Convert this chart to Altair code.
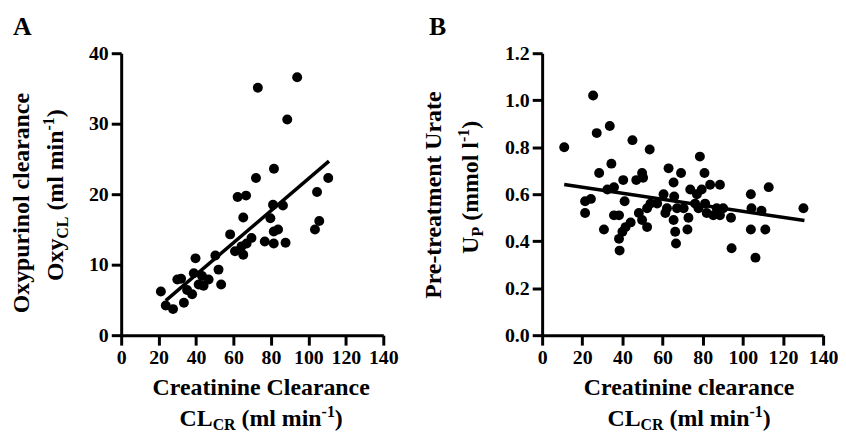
import altair as alt
import pandas as pd

# ---------------- data ----------------
# Panel A: oxypurinol clearance vs creatinine clearance
a_crcl = [73, 94, 88.7, 81.6, 72, 110.6, 104.6, 62.2, 66.7, 81.1, 86.4, 65.2, 79.7,
          105.8, 103.5, 83.8, 81.5, 58.2, 69.6, 76.7, 81.5, 87.8, 64.3, 60.8, 65.2,
          50.3, 39.7, 52, 38.8, 43.2, 46.7, 41.4, 30, 53.4, 35.2, 37.9, 21.2, 33.5,
          23.8, 27.7, 67, 44, 32]
a_oxycl = [35.1, 36.6, 30.6, 23.6, 22.3, 22.3, 20.3, 19.6, 19.8, 18.5, 18.4, 16.7, 16.6,
           16.2, 15.0, 15.0, 14.7, 14.3, 13.8, 13.3, 13.0, 13.1, 12.6, 11.9, 11.4,
           11.3, 10.9, 9.3, 8.8, 8.4, 7.9, 7.2, 7.9, 7.2, 6.4, 5.8, 6.2, 4.6,
           4.2, 3.7, 13.0, 7.0, 8.0]
a_fit_x = [23.8, 111.0]
a_fit_y = [4.9, 24.7]

# Panel B: pre-treatment urate vs creatinine clearance
b_crcl = [25.4, 11, 33.7, 27.2, 45, 53.6, 78.6, 34.5, 28.4, 63, 69.2, 80.9, 49.8, 46.9,
          50.3, 40.4, 65.5, 88.6, 83.7, 112.9, 104, 32.5, 35.8, 73.8, 79.5, 77.1, 60.5,
          65.8, 21.4, 24.3, 41.1, 54, 52.3, 57.3, 62.2, 67.2, 70.5, 76.2, 81.2, 77.9,
          82, 87, 90.2, 88.6, 104.3, 109.3, 130.2, 21.4, 35.8, 38.3, 48.2, 49.8, 52.3,
          44.1, 41.6, 40, 30.8, 38.3, 38.6, 65.5, 66.3, 66.7, 72.4, 61.4, 72.9, 94.1,
          104, 111.2, 94.4, 106.3, 85.3]
b_urate = [1.02, 0.80, 0.89, 0.86, 0.83, 0.79, 0.76, 0.73, 0.69, 0.71, 0.69, 0.69, 0.69,
           0.66, 0.67, 0.66, 0.65, 0.64, 0.64, 0.63, 0.60, 0.62, 0.63, 0.62, 0.62, 0.60,
           0.60, 0.59, 0.57, 0.58, 0.57, 0.56, 0.54, 0.56, 0.54, 0.54, 0.54, 0.56, 0.56,
           0.54, 0.52, 0.54, 0.54, 0.51, 0.54, 0.53, 0.54, 0.52, 0.51, 0.51, 0.52, 0.49,
           0.46, 0.48, 0.46, 0.44, 0.45, 0.41, 0.36, 0.49, 0.44, 0.39, 0.45, 0.52, 0.50,
           0.50, 0.45, 0.45, 0.37, 0.33, 0.51]
b_fit_x = [11.0, 130.7]
b_fit_y = [0.641, 0.488]

x_ticks = [0, 20, 40, 60, 80, 100, 120, 140]
ya_ticks = [0, 10, 20, 30, 40]
yb_ticks = [0.0, 0.2, 0.4, 0.6, 0.8, 1.0, 1.2]

# ---------------- styling ----------------
FONT = "Liberation Serif"
MAIN = 24
SMALL = 16
W_A, W_B, H = 264, 283, 284

# Times/Liberation Serif Bold advance widths (per 1000 em)
CW = {" ": 250, "(": 333, ")": 333, "-": 333, "1": 500,
      "C": 722, "L": 667, "O": 778, "P": 611, "R": 722, "U": 722,
      "a": 500, "c": 444, "e": 444, "i": 278, "l": 278, "m": 833, "n": 556,
      "o": 500, "p": 556, "r": 444, "t": 333, "u": 556, "x": 500, "y": 500}


def tw(s, size):
    return sum(CW.get(c, 500) for c in s) / 1000.0 * size


one = pd.DataFrame({"k": [0]})


def txt(s, x, y, size, angle=0, align="left"):
    return alt.Chart(one).mark_text(
        text=s, font=FONT, fontWeight="bold", fontSize=size, angle=angle,
        align=align, baseline="alphabetic", color="black"
    ).encode(x=alt.value(x), y=alt.value(y))


def size_of(kind):
    return MAIN if kind == "n" else SMALL


OFF = {"n": 0, "sub": 5, "sup": -9}


def hline(pieces, cx, base):
    total = sum(tw(s, size_of(k)) for s, k in pieces)
    x = cx - total / 2
    out = []
    for s, k in pieces:
        lead = len(s) - len(s.lstrip())
        x0 = x + tw(" " * lead, size_of(k))
        out.append(txt(s.strip(), x0, base + OFF[k], size_of(k)))
        x += tw(s, size_of(k))
    return out


def vline(pieces, cy, base):
    total = sum(tw(s, size_of(k)) for s, k in pieces)
    y = cy + total / 2
    out = []
    for s, k in pieces:
        lead = len(s) - len(s.lstrip())
        y0 = y - tw(" " * lead, size_of(k))
        out.append(txt(s.strip(), base + OFF[k], y0, size_of(k), angle=270))
        y -= tw(s, size_of(k))
    return out


def anchor(x, y):
    return alt.Chart(one).mark_rule(strokeOpacity=0, strokeWidth=1).encode(
        x=alt.value(x), x2=alt.value(x + 1), y=alt.value(y), y2=alt.value(y + 1))


def axis(values, fmt):
    return alt.Axis(values=values, format=fmt, title=None, grid=False,
                    domainWidth=3, domainColor="black", tickWidth=3, tickSize=10,
                    tickColor="black", labelFont=FONT, labelFontWeight="bold",
                    labelFontSize=20, labelColor="black", labelPadding=3,
                    labelFlush=False, labelOverlap=False)


def panel(xs, ys, fx, fy, ydom, yvals, yfmt):
    pts = pd.DataFrame({"crcl": xs, "val": ys})
    fit = pd.DataFrame({"crcl": fx, "val": fy})

    def enc():
        return dict(
            x=alt.X("crcl:Q", scale=alt.Scale(domain=[0, 140], nice=False),
                    axis=axis(x_ticks, "d")),
            y=alt.Y("val:Q", scale=alt.Scale(domain=ydom, nice=False),
                    axis=axis(yvals, yfmt)),
        )
    p = alt.Chart(pts).mark_circle(size=100, color="black", opacity=1).encode(**enc())
    l = alt.Chart(fit).mark_line(color="black", strokeWidth=3.5).encode(**enc())
    return [p, l]


# ---------------- panel A ----------------
a_layers = panel(a_crcl, a_oxycl, a_fit_x, a_fit_y, [0, 40], ya_ticks, "d")
a_layers += [anchor(-114, -44), txt("A", -109, -18, 26)]
a_layers += [txt("Oxypurinol clearance", -93, 151, MAIN, angle=270, align="center")]
a_layers += vline([("Oxy", "n"), ("CL", "sub"), (" (ml min", "n"), ("-1", "sup"), (")", "n")], 143, -59)
a_layers += [txt("Creatinine Clearance", 141, 344, MAIN, align="center")]
a_layers += hline([("CL", "n"), ("CR", "sub"), (" (ml min", "n"), ("-1", "sup"), (")", "n")], 141, 375)
panelA = alt.layer(*a_layers).properties(width=W_A, height=H)

# ---------------- panel B ----------------
b_layers = panel(b_crcl, b_urate, b_fit_x, b_fit_y, [0, 1.2], yb_ticks, ".1f")
b_layers += [txt("B", -114, -18, 26)]
b_layers += [txt("Pre-treatment Urate", -102, 143, MAIN, angle=270, align="center")]
b_layers += vline([("U", "n"), ("P", "sub"), (" (mmol l", "n"), ("-1", "sup"), (")", "n")], 135, -65)
b_layers += [txt("Creatinine clearance", 148, 344, MAIN, align="center")]
b_layers += hline([("CL", "n"), ("CR", "sub"), (" (ml min", "n"), ("-1", "sup"), (")", "n")], 148, 375)
panelB = alt.layer(*b_layers).properties(width=W_B, height=H)

chart = alt.hconcat(panelA, panelB, spacing=160, bounds="flush").properties(
    padding=0, background="white"
).configure_view(stroke=None)

chart.save("out.html", embed_options={"renderer": "svg", "actions": False})
